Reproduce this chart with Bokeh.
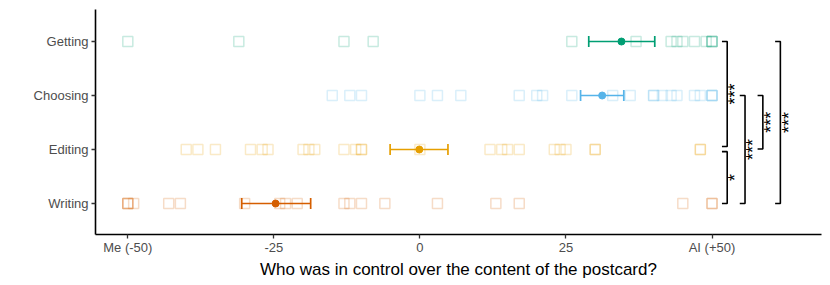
import math
from bokeh.plotting import figure
from bokeh.models import ColumnDataSource, Whisker, TeeHead, FixedTicker, Range1d
from bokeh.core.properties import value
from bokeh.embed import file_html
from bokeh.resources import INLINE

# ---- data ----
tasks = ["Writing", "Editing", "Choosing", "Getting"]
colors = ["#D55E00", "#E69F00", "#56B4E9", "#009E73"]

getting = [-50, -31, -13, -8, 26, 37, 43, 44, 45, 47, 49, 50, 50, 50]
choosing = [-15, -12, -10, 0, 3, 7, 17, 20, 21, 26, 33, 36, 40, 40, 41.5, 43, 44, 47, 48, 50, 50, 50]
editing = [-40, -38, -35, -29, -27, -26, -20, -19, -18, -13, -11, -10, -10, 0, 12, 14, 15, 17,
           23, 24, 25, 30, 30, 48, 48]
writing = [-50, -50, -50, -49, -43, -41, -30, -24, -23, -21, -13, -12, -10, -6, 3, 13, 17, 45, 50, 50]

means = [-24.7, -0.1, 31.2, 34.5]
ci_low = [-30.5, -5.1, 27.5, 28.9]
ci_high = [-18.7, 4.8, 34.9, 40.2]

x_ticks = [-50, -25, 0, 25, 50]
x_tick_labels = ["Me (-50)", "-25", "0", "25", "AI (+50)"]

# significance comparisons (task a, task b, label)
comparisons = [("Getting", "Editing", "***"),
               ("Editing", "Writing", "*"),
               ("Choosing", "Writing", "***"),
               ("Choosing", "Editing", "***"),
               ("Getting", "Writing", "***")]

FONT = "Liberation Sans"

p = figure(frame_width=726, frame_height=225, output_backend="svg", toolbar_location=None,
           x_range=Range1d(-55.53, 68.74), y_range=Range1d(0.426, 4.593),
           min_border_left=95, min_border_right=1, min_border_top=9, min_border_bottom=43)
p.outline_line_color = None
p.grid.visible = False
p.background_fill_color = "white"

ypos = {t: i + 1 for i, t in enumerate(tasks)}
series = {"Writing": writing, "Editing": editing, "Choosing": choosing, "Getting": getting}

for t, c in zip(tasks, colors):
    vals = series[t]
    src = ColumnDataSource(dict(x=vals, y=[ypos[t]] * len(vals)))
    p.scatter("x", "y", source=src, marker="square", size=10, fill_color=None,
              line_color=c, line_alpha=0.22, line_width=1.5)

for i, (t, c) in enumerate(zip(tasks, colors)):
    src = ColumnDataSource(dict(y=[ypos[t]], lo=[ci_low[i]], hi=[ci_high[i]], m=[means[i]]))
    w = Whisker(base="y", lower="lo", upper="hi", dimension="width", source=src,
                line_color=c, line_width=1.7,
                lower_head=TeeHead(size=11, line_color=c, line_width=1.7),
                upper_head=TeeHead(size=11, line_color=c, line_width=1.7))
    p.add_layout(w)
    p.scatter("m", "y", source=src, marker="circle", size=7, fill_color=c, line_color=c)

# brackets
bracket_x = [52.6, 52.6, 55.65, 58.7, 61.7]
tip = 0.9
xs, ys = [], []
tx, ty, tl = [], [], []
for (a, b, lab), bx in zip(comparisons, bracket_x):
    ya, yb = ypos[a], ypos[b]
    top, bot = max(ya, yb), min(ya, yb)
    if (a, b) == ("Getting", "Editing"):
        bot += 0.055
    if (a, b) == ("Editing", "Writing"):
        top -= 0.04
    if (a, b) == ("Choosing", "Editing"):
        bot += 0.01
    xs.append([bx - tip, bx, bx, bx - tip])
    ys.append([top, top, bot, bot])
    tx.append(bx - 0.3)
    ty.append((top + bot) / 2)
    tl.append(lab)
p.multi_line(xs, ys, line_color="black", line_width=1.6)
p.text(tx, ty, text=tl, angle=math.pi / 2, text_align="center", text_baseline="top",
       text_font=value(FONT), text_font_size="18px", text_color="black")

# axes
for ax in (p.xaxis[0], p.yaxis[0]):
    ax.axis_line_color = "black"
    ax.axis_line_width = 1.6
    ax.major_tick_line_color = "#333333"
    ax.major_tick_line_width = 1.3
    ax.major_tick_out = 4
    ax.major_tick_in = 0
    ax.minor_tick_line_color = None
    ax.major_label_text_font = FONT
    ax.major_label_text_font_size = "13px"
    ax.major_label_text_color = "#4D4D4D"
    ax.major_label_standoff = 3

p.xaxis.ticker = FixedTicker(ticks=x_ticks)
p.xaxis.major_label_overrides = {v: l for v, l in zip(x_ticks, x_tick_labels)}
p.xaxis[0].major_label_standoff = 1
p.yaxis.ticker = FixedTicker(ticks=[ypos[t] for t in tasks])
p.yaxis.major_label_overrides = {ypos[t]: t for t in tasks}
p.xaxis.axis_label = "Who was in control over the content of the postcard?"
p.xaxis.axis_label_text_font = FONT
p.xaxis.axis_label_text_font_size = "17px"
p.xaxis.axis_label_text_font_style = "normal"
p.xaxis.axis_label_text_color = "black"
p.xaxis.axis_label_standoff = 2

open("out.html", "w").write(file_html(p, INLINE))
